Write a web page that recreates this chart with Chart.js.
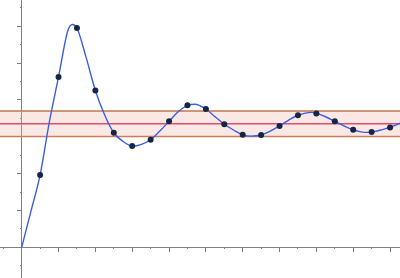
<!DOCTYPE html>
<html>
<head>
<meta charset="utf-8">
<script src="https://cdn.jsdelivr.net/npm/chart.js@4.4.1/dist/chart.umd.min.js"></script>
<style>
  body { margin: 0; background: #fff; }
  #wrap { width: 400px; height: 278px; }
</style>
</head>
<body>
<div id="wrap"><canvas id="grafico"></canvas></div>
<script>
// sampled points (dots)
const sampleTimes = [1, 2, 3, 4, 5, 6, 7, 8, 9, 10, 11, 12, 13, 14, 15, 16, 17, 18, 19, 20];
const sampleValues = [3.93, 9.25, 11.91, 8.52, 6.22, 5.50, 5.84, 6.84, 7.71, 7.51, 6.68, 6.11, 6.10, 6.59, 7.17, 7.27, 6.84, 6.38, 6.26, 6.51];

// continuous response
const curveTimes = [0, 0.5, 1, 1.5, 2, 2.5, 2.76, 3, 3.5, 4, 4.5, 5, 5.5, 6.05, 6.5, 7, 7.5, 8, 8.5, 9, 9.41, 10, 10.5, 11, 11.5, 12, 12.45, 13, 13.5, 14, 14.5, 15, 15.74, 16, 16.5, 17, 17.5, 18, 18.73, 19, 19.5, 20, 20.6];
const curveValues = [0, 1.95, 3.93, 6.8, 9.25, 11.75, 12.1, 11.91, 10.3, 8.52, 7.2, 6.22, 5.75, 5.49, 5.59, 5.84, 6.31, 6.84, 7.36, 7.71, 7.77, 7.51, 7.09, 6.68, 6.37, 6.11, 6.04, 6.10, 6.31, 6.59, 6.91, 7.17, 7.33, 7.27, 7.09, 6.84, 6.59, 6.38, 6.24, 6.26, 6.37, 6.51, 6.76];

// tolerance band: upper, target, lower
const bandUpper = 7.40;
const bandTarget = 6.71;
const bandLower = 6.02;

const xMin = -1.178, xMax = 20.54;
const yMin = -1.667, yMax = 13.43;

const corAxis = '#808080';

const pts = (xs, ys) => xs.map((x, i) => ({ x: x, y: ys[i] }));
const hline = v => [{ x: xMin, y: v }, { x: xMax, y: v }];

new Chart(document.getElementById('grafico'), {
    type: 'line',
    data: {
        datasets: [{
            data: pts(sampleTimes, sampleValues),
            showLine: false,
            pointRadius: 3,
            pointBackgroundColor: 'rgb(22, 38, 66)',
            pointBorderWidth: 0,
        }, {
            data: pts(curveTimes, curveValues),
            borderColor: 'rgb(60, 95, 225)',
            borderWidth: 1.4,
            pointRadius: 0,
            cubicInterpolationMode: 'monotone',
        }, {
            data: hline(bandTarget),
            borderColor: 'rgb(222, 78, 110)',
            borderWidth: 1.5,
            pointRadius: 0,
        }, {
            data: hline(bandUpper),
            borderColor: 'rgb(196, 116, 76)',
            borderWidth: 1.5,
            pointRadius: 0,
            fill: '+1',
            backgroundColor: 'rgba(238, 180, 168, 0.3)',
        }, {
            data: hline(bandLower),
            borderColor: 'rgb(196, 116, 76)',
            borderWidth: 1.5,
            pointRadius: 0,
        }]
    },
    options: {
        maintainAspectRatio: false,
        animation: false,
        events: [],
        layout: { padding: 0, autoPadding: false },
        plugins: {
            legend: { display: false },
            tooltip: { enabled: false },
        },
        scales: {
            x: {
                type: 'linear', min: xMin, max: xMax,
                position: { y: 0 },
                ticks: { display: false, stepSize: 2, includeBounds: false },
                grid: { drawOnChartArea: false, tickLength: 4, tickColor: corAxis },
                border: { color: corAxis },
            },
            xm: {
                type: 'linear', axis: 'x', min: xMin, max: xMax,
                position: { y: 0 },
                ticks: { display: false, stepSize: 1, includeBounds: false },
                grid: { drawOnChartArea: false, tickLength: 2, tickColor: corAxis },
                border: { display: false },
            },
            y: {
                type: 'linear', min: yMin, max: yMax,
                position: { x: 0 },
                ticks: { display: false, stepSize: 2, includeBounds: false },
                grid: { drawOnChartArea: false, tickLength: 4, tickColor: corAxis },
                border: { color: corAxis },
            },
            ym: {
                type: 'linear', axis: 'y', min: yMin, max: yMax,
                position: { x: 0 },
                ticks: { display: false, stepSize: 1, includeBounds: false },
                grid: { drawOnChartArea: false, tickLength: 2, tickColor: corAxis },
                border: { display: false },
            }
        }
    }
});
</script>
</body>
</html>
